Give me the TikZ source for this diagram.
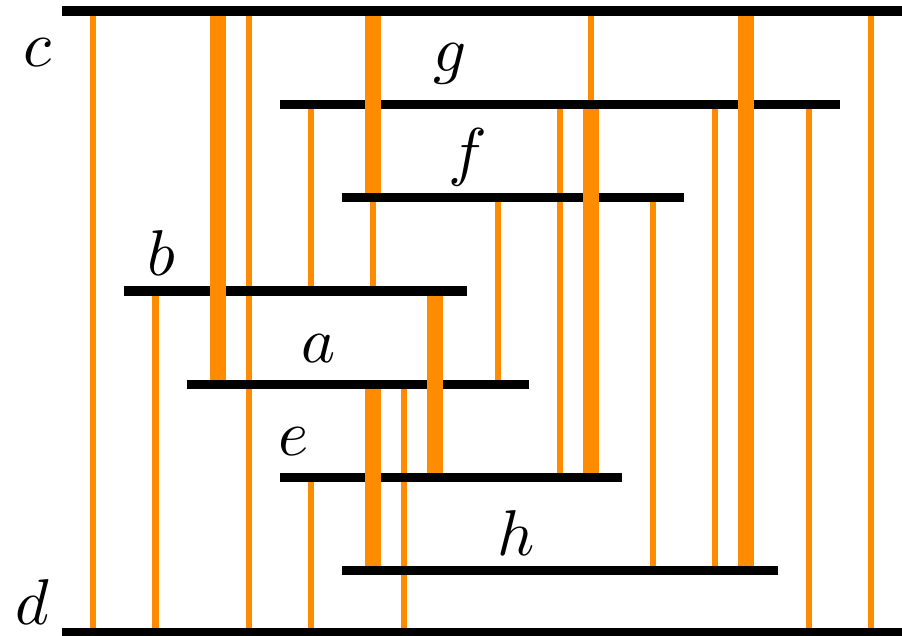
\documentclass[tikz,border=0pt]{standalone}
\definecolor{linkorange}{HTML}{FF8C00}
\begin{document}
\begin{tikzpicture}[scale=0.5,
        bar/.style={line width=0.15cm, black},
        thinlink/.style={line width=0.097cm, linkorange},
        thicklink/.style={line width=0.257cm, linkorange},
        lbl/.style={anchor=base, inner sep=0pt, scale=2.96}]
        \useasboundingbox (0,-20.096) rectangle (29.003,0.354);

        % thin links, behind the bars
        \draw[thinlink] (3,0) -- (3,-20);
        \draw[thinlink] (5,-9) -- (5,-20);
        \draw[thinlink] (8,0) -- (8,-20);
        \draw[thinlink] (10,-3) -- (10,-9);
        \draw[thinlink] (10,-15) -- (10,-20);
        \draw[thinlink] (12,-6) -- (12,-9);
        \draw[thinlink] (13,-12) -- (13,-20);
        \draw[thinlink] (16,-6) -- (16,-12);
        \draw[thinlink] (18,-3) -- (18,-15);
        \draw[thinlink] (19,0) -- (19,-3);
        \draw[thinlink] (21,-6) -- (21,-18);
        \draw[thinlink] (23,-3) -- (23,-18);
        \draw[thinlink] (26,-3) -- (26,-20);
        \draw[thinlink] (28,0) -- (28,-20);

        % bars
        \draw[bar] (2,0) -- (29,0);
        \draw[bar] (9,-3) -- (27,-3);
        \draw[bar] (11,-6) -- (22,-6);
        \draw[bar] (4,-9) -- (15,-9);
        \draw[bar] (6,-12) -- (17,-12);
        \draw[bar] (9,-15) -- (20,-15);
        \draw[bar] (11,-18) -- (25,-18);
        \draw[bar] (2,-20) -- (29,-20);

        % thick links, over the bars
        \draw[thicklink] (7,-0.15) -- (7,-11.85);
        \draw[thicklink] (12,-0.15) -- (12,-5.85);
        \draw[thicklink] (12,-12.15) -- (12,-17.85);
        \draw[thicklink] (14,-9.15) -- (14,-14.85);
        \draw[thicklink] (19,-3.15) -- (19,-14.85);
        \draw[thicklink] (24,-0.15) -- (24,-17.85);

        % labels
        \node[lbl] (lc) at (1.21,-1.80) {$c$};
        \node[lbl] (lg) at (14.47,-1.94) {$g$};
        \node[lbl] (lf) at (15.05,-5.24) {$f$};
        \node[lbl] (lb) at (5.18,-8.52) {$b$};
        \node[lbl] (la) at (10.26,-11.30) {$a$};
        \node[lbl] (le) at (9.45,-14.28) {$e$};
        \node[lbl] (lh) at (16.6,-17.52) {$h$};
        \node[lbl] (ld) at (1.05,-19.74) {$d$};
\end{tikzpicture}
\end{document}
